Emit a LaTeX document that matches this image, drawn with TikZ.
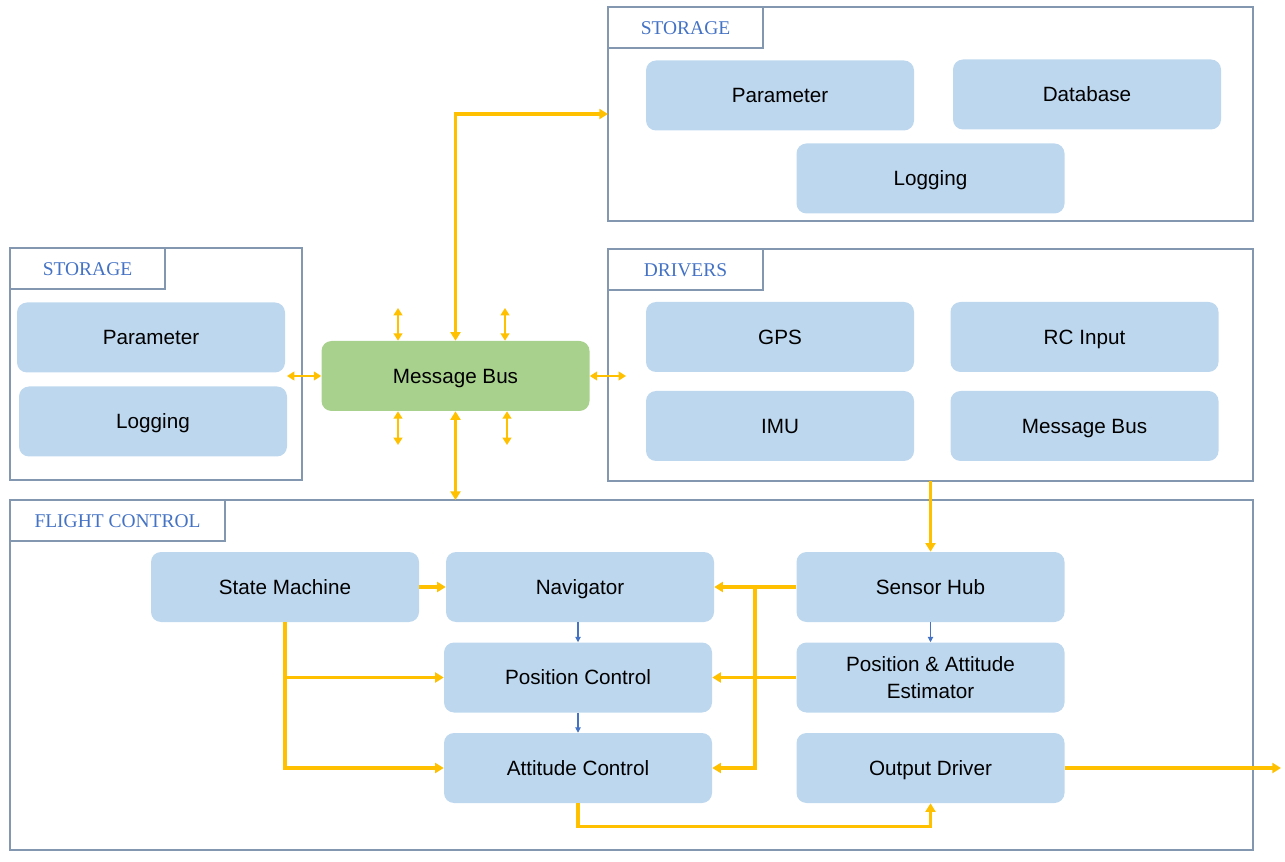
\documentclass[tikz,border=0pt]{standalone}
\usepackage{fontspec}
\setmainfont{Liberation Serif}
\setsansfont{Liberation Sans}
\usetikzlibrary{arrows.meta}

\definecolor{boxblue}{HTML}{BDD7EE}
\definecolor{busgreen}{HTML}{A9D18E}
\definecolor{frame}{HTML}{8497B0}
\definecolor{tabtext}{HTML}{4472C4}
\definecolor{flow}{HTML}{FFC000}
\definecolor{thin}{HTML}{4472C4}

\tikzset{
  panel/.style={fill=boxblue, rounded corners=7.5pt, minimum width=201pt,
    minimum height=52.5pt, inner sep=0pt, align=center,
    font=\sffamily\fontsize{15.5}{20}\selectfont},
  box/.style={panel, text height=11pt, text depth=0pt},
  bus/.style={box, fill=busgreen},
  group/.style={draw=frame, line width=1.4pt, inner sep=0pt, outer sep=0pt},
  tab/.style={draw=frame, line width=1.4pt, anchor=north west, inner sep=0pt,
    outer sep=0pt, minimum height=30.75pt, text=tabtext, text height=10pt,
    text depth=0pt, font=\fontsize{14.6}{16}\selectfont},
  link/.style={draw=flow, line width=2.3pt,
    arrows={-Triangle[length=6.5pt,width=7.5pt]}},
  link2/.style={draw=flow, line width=2.3pt,
    arrows={Triangle[length=6.5pt,width=7.5pt]-Triangle[length=6.5pt,width=7.5pt]}},
  stub/.style={link2, line width=1.9pt,
    arrows={Triangle[length=5.5pt,width=6.5pt]-Triangle[length=5.5pt,width=6.5pt]}},
  flowthin/.style={draw=thin, line width=0.8pt,
    arrows={-Triangle[length=4pt,width=4pt]}}
}

\begin{document}
\begin{tikzpicture}[x=0.75pt,y=-0.75pt]
  \useasboundingbox (0,0) rectangle (1285,862);

  % groups
  \node[group, minimum width=483.75pt, minimum height=160.5pt] (storTop) at (930.5,114) {};
  \node[tab, minimum width=116.25pt] (storTopTab) at (608,7) {STORAGE};
  \node[group, minimum width=219pt, minimum height=174pt] (storLeft) at (156,364) {};
  \node[tab, minimum width=116.25pt] (storLeftTab) at (10,248) {STORAGE};
  \node[group, minimum width=483.75pt, minimum height=174pt] (drv) at (930.5,365) {};
  \node[tab, minimum width=116.25pt] (drvTab) at (608,249) {DRIVERS};
  \node[group, minimum width=932.25pt, minimum height=262.5pt] (fc) at (631.5,675) {};
  \node[tab, minimum width=161.25pt] (fcTab) at (10,500) {FLIGHT CONTROL};

  % storage
  \node[box] (param) at (780,95.5) {Parameter};
  \node[box] (db) at (1087,94.5) {Database};
  \node[box] (log) at (930.5,178.5) {Logging};
  \node[box] (paramL) at (151,337.5) {Parameter};
  \node[box] (logL) at (153,421.5) {Logging};

  % bus
  \node[bus] (bus) at (455.5,376) {Message Bus};

  % drivers
  \node[box] (gps) at (780,337) {GPS};
  \node[box] (rc) at (1084.5,337) {RC Input};
  \node[box] (imu) at (780,426) {IMU};
  \node[box] (drvBus) at (1084.5,426) {Message Bus};

  % flight control
  \node[box] (sm) at (285,587) {State Machine};
  \node[box] (nav) at (580,587) {Navigator};
  \node[box] (hub) at (930.5,587) {Sensor Hub};
  \node[box] (pos) at (578,677.5) {Position Control};
  \node[panel] (est) at (930.5,677.5) {Position \& Attitude\\Estimator};
  \node[box] (att) at (578,768) {Attitude Control};
  \node[box] (out) at (930.5,768) {Output Driver};

  \coordinate (busL) at (287,376);
  \coordinate (busR) at (626,376);
  \coordinate (stubA) at (398,308);
  \coordinate (stubB) at (505,308);
  \coordinate (stubC) at (398,445);
  \coordinate (stubD) at (507,445);
  \coordinate (split) at (755,0);
  \coordinate (outEnd) at (1281,768);

  % bus links
  \draw[link2] (bus.north) |- (storTop.west);
  \draw[link2] (bus.south) -- (bus.south |- fc.north);
  \draw[stub] (bus.west) -- (busL);
  \draw[stub] (bus.east) -- (busR);
  \draw[stub] (stubA |- bus.north) -- (stubA);
  \draw[stub] (stubB |- bus.north) -- (stubB);
  \draw[stub] (stubC |- bus.south) -- (stubC);
  \draw[stub] (stubD |- bus.south) -- (stubD);

  % control flow
  \draw[link] (hub.north |- drv.south) -- (hub.north);
  \draw[link] (hub.west) -- (nav.east);
  \draw[link] (hub.west -| split) |- (att.east);
  \draw[link] (est.west) -- (pos.east);
  \draw[link] (sm.east) -- (nav.west);
  \draw[link] (sm.south) |- (att.west);
  \draw[link] (sm.south |- pos.west) -- (pos.west);
  \draw[link] (att.south) -- ++(0,23) -| (out.south);
  \draw[link] (out.east) -- (outEnd);

  \draw[flowthin] (pos.north |- nav.south) -- (pos.north);
  \draw[flowthin] (pos.south) -- (att.north);
  \draw[flowthin] (hub.south) -- (est.north);
\end{tikzpicture}
\end{document}
